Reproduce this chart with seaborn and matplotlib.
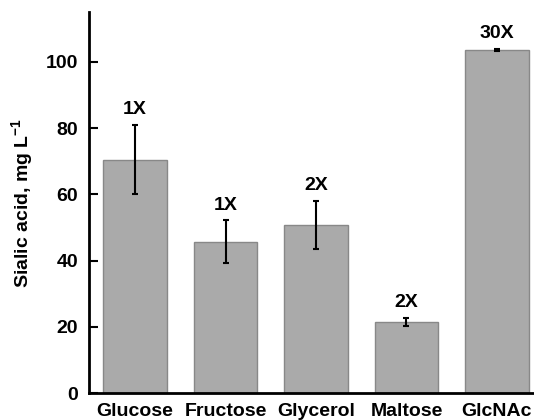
import numpy as np
import pandas as pd
import matplotlib
matplotlib.use('Agg')
import matplotlib.pyplot as plt
import seaborn as sns

sources = ['Glucose', 'Fructose', 'Glycerol', 'Maltose', 'GlcNAc']
sialic = [70.5, 45.7, 50.8, 21.5, 103.6]
err = [10.5, 6.5, 7.3, 1.3, 0.3]
fold = ['1X', '1X', '2X', '2X', '30X']

sns.set_style('white')
plt.rcParams['font.family'] = ['Liberation Sans', 'DejaVu Sans']
plt.rcParams['font.weight'] = 'bold'
plt.rcParams['text.color'] = 'black'
plt.rcParams['axes.labelcolor'] = 'black'
plt.rcParams['xtick.color'] = 'black'
plt.rcParams['ytick.color'] = 'black'
plt.rcParams['mathtext.fontset'] = 'custom'
plt.rcParams['mathtext.rm'] = 'Liberation Sans:bold'
plt.rcParams['mathtext.bf'] = 'Liberation Sans:bold'
plt.rcParams['mathtext.default'] = 'rm'

df = pd.DataFrame({'source': sources, 'sialic': sialic, 'err': err, 'fold': fold})

fig = plt.figure(figsize=(5.34, 4.2), dpi=100)
ax = fig.add_axes([0.167, 0.064, 0.833, 0.907])

sns.barplot(data=df, x='source', y='sialic', color='#aaaaaa', saturation=1,
            edgecolor='#888888', linewidth=1, width=0.7, errorbar=None, ax=ax)
ax.errorbar(np.arange(len(df)), df['sialic'], yerr=df['err'], fmt='none',
            ecolor='black', elinewidth=1.5, capsize=2.5, capthick=1.5)

for i, row in df.iterrows():
    ax.text(i, row['sialic'] + row['err'] + 2.0, row['fold'], ha='center',
            va='bottom', fontsize=14, fontweight='bold', color='black')

ax.set_xlim(-0.508, 4.41)
ax.set_ylim(0, 115)
ax.set_yticks([0, 20, 40, 60, 80, 100])
ax.set_xlabel('')
ax.set_ylabel(r'Sialic acid, mg L$^{-1}$', fontsize=14, fontweight='bold', labelpad=8)
ax.tick_params(axis='y', direction='in', length=6.5, width=1.5, labelsize=14,
               left=True, pad=8, colors='black')
ax.tick_params(axis='x', length=0, labelsize=14, pad=7, colors='black')
for lab in ax.get_xticklabels() + ax.get_yticklabels():
    lab.set_fontweight('bold')

sns.despine(ax=ax)
ax.spines['left'].set_linewidth(2)
ax.spines['bottom'].set_linewidth(2)
ax.spines['left'].set_color('black')
ax.spines['bottom'].set_color('black')

fig.savefig('out.png', dpi=100)
